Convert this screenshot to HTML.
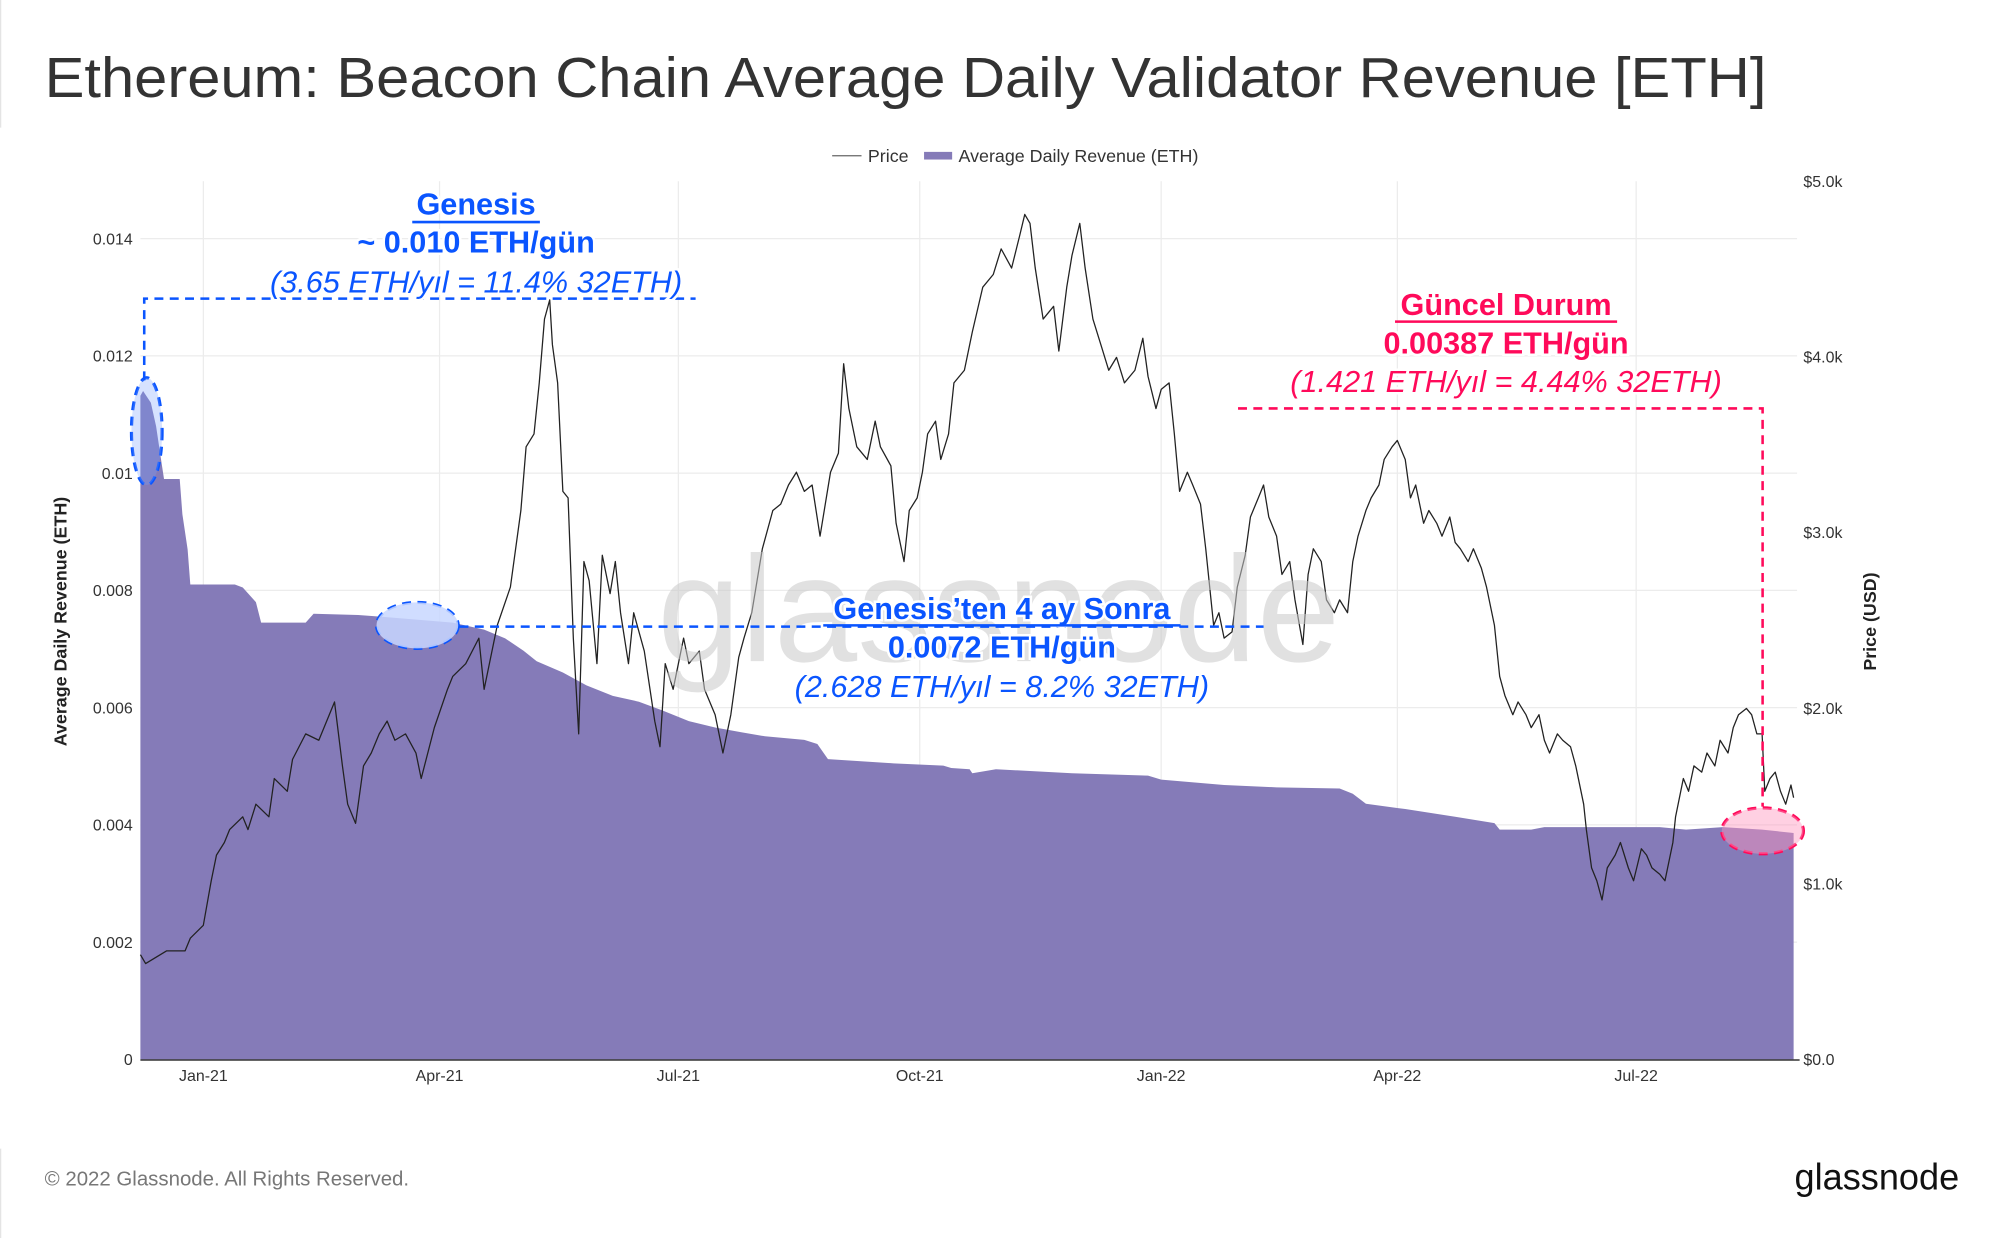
<!DOCTYPE html>
<html><head><meta charset="utf-8">
<style>
html,body{margin:0;padding:0;background:#fff;}
svg{display:block;font-family:"Liberation Sans",sans-serif;}
</style></head>
<body>
<svg id="chart" width="2000" height="1238" viewBox="0 0 1567 970" preserveAspectRatio="none" xmlns="http://www.w3.org/2000/svg">
  <rect width="1567" height="970" fill="#fff"/>
  <line x1="0.5" y1="0" x2="0.5" y2="100" stroke="#e4e4e4"/>
  <line x1="0.5" y1="900" x2="0.5" y2="970" stroke="#e4e4e4"/>
  <text x="35" y="76" font-size="44" fill="#333" textLength="1349" lengthAdjust="spacingAndGlyphs">Ethereum: Beacon Chain Average Daily Validator Revenue [ETH]</text>
  <g>
    <g>
      <line x1="652" y1="122" x2="675" y2="122" stroke="#666" stroke-width="1"/>
      <text x="680" y="127" font-size="14" fill="#333">Price</text>
    </g>
    <g>
      <rect x="724" y="119" width="22" height="6" fill="#857bb8"/>
      <text x="751" y="127" font-size="14" fill="#333">Average Daily Revenue (ETH)</text>
    </g>
  </g>
  <g id="grid"></g>
  <g id="area"></g>
  <g id="price"></g>
  <g id="axes"></g>
  <text x="515" y="518" font-size="118" fill="#c8c8c8" fill-opacity="0.55" textLength="535" lengthAdjust="spacingAndGlyphs">glassnode</text>
  <text transform="translate(52,487) rotate(-90)" text-anchor="middle" font-size="14" font-weight="bold" fill="#222">Average Daily Revenue (ETH)</text>
  <text transform="translate(1470,487) rotate(-90)" text-anchor="middle" font-size="14" font-weight="bold" fill="#222">Price (USD)</text>

  <g font-size="24" fill="#0a55ff" text-anchor="middle" stroke="#fff" stroke-width="4" paint-order="stroke">
    <ellipse cx="115" cy="338" rx="12" ry="42" fill="rgba(120,160,255,0.3)" stroke="#0a55ff" stroke-width="2.5" stroke-dasharray="7,5"/>
    <polyline points="113,298 113,234 545,234" fill="none" stroke="#0a55ff" stroke-width="2" stroke-dasharray="7,5"/>
    <text x="373" y="168" font-weight="bold">Genesis</text>
    <line x1="323" y1="174" x2="423" y2="174" stroke="#0a55ff" stroke-width="2"/>
    <text x="373" y="198" font-weight="bold">~ 0.010 ETH/gün</text>
    <text x="373" y="229" font-style="italic">(3.65 ETH/yıl = 11.4% 32ETH)</text>
  </g>
  <g font-size="24" fill="#0a55ff" text-anchor="middle" stroke="#fff" stroke-width="4" paint-order="stroke">
    <ellipse cx="327" cy="490" rx="32" ry="18" fill="rgba(200,215,255,0.85)" stroke="#0a55ff" stroke-width="2.5" stroke-dasharray="7,5"/>
    <line x1="360" y1="491" x2="990" y2="491" stroke="#0a55ff" stroke-width="2" stroke-dasharray="7,5"/>
    <text x="785" y="485" font-weight="bold">Genesis’ten 4 ay Sonra</text>
    <line x1="645" y1="490" x2="925" y2="490" stroke="#0a55ff" stroke-width="2"/>
    <text x="785" y="515" font-weight="bold">0.0072 ETH/gün</text>
    <text x="785" y="546" font-style="italic">(2.628 ETH/yıl = 8.2% 32ETH)</text>
  </g>
  <g font-size="24" fill="#ff0a5a" text-anchor="middle" stroke="#fff" stroke-width="4" paint-order="stroke">
    <ellipse cx="1381" cy="651" rx="32" ry="18" fill="rgba(255,150,190,0.45)" stroke="#ff0a5a" stroke-width="2.5" stroke-dasharray="7,5"/>
    <polyline points="970,320 1381,320 1381,632" fill="none" stroke="#ff0a5a" stroke-width="2" stroke-dasharray="7,5"/>
    <text x="1180" y="247" font-weight="bold">Güncel Durum</text>
    <line x1="1093" y1="252" x2="1267" y2="252" stroke="#ff0a5a" stroke-width="2"/>
    <text x="1180" y="277" font-weight="bold">0.00387 ETH/gün</text>
    <text x="1180" y="307" font-style="italic">(1.421 ETH/yıl = 4.44% 32ETH)</text>
  </g>

  <text x="35" y="929" font-size="16" fill="#777">© 2022 Glassnode. All Rights Reserved.</text>
  <text x="1406" y="932" font-size="29" fill="#111" textLength="129" lengthAdjust="spacingAndGlyphs">glassnode</text>
</svg>
<script>
// ---- data ----
const revDays = [0,1,4,6,8,9,15,16,18,19,36,39,44,46,63,66,83,92,119,131,139,146,151,161,170,180,190,199,209,219,229,238,253,258,262,287,306,309,316,317,326,355,384,389,413,433,457,462,467,482,501,516,518,530,535,579,589,603,618,630];
const revValues = [0.01132,0.0114,0.0112,0.0108,0.0102,0.0099,0.0099,0.0093,0.0087,0.0081,0.0081,0.00805,0.0078,0.00745,0.00745,0.0076,0.00758,0.00755,0.00745,0.00733,0.00718,0.00697,0.00679,0.0066,0.00638,0.0062,0.0061,0.00595,0.00577,0.00566,0.00558,0.00551,0.00545,0.00538,0.00512,0.00505,0.00501,0.00497,0.00495,0.00488,0.00495,0.00488,0.00484,0.00477,0.00468,0.00464,0.00462,0.00453,0.00436,0.00427,0.00414,0.00403,0.00392,0.00392,0.00396,0.00396,0.00392,0.00396,0.00392,0.00386];
const priceDays = [0,2,10,17,19,24,27,29,32,34,39,41,44,49,51,56,58,63,68,72,74,77,79,82,85,88,91,94,97,101,105,107,112,117,119,124,129,131,136,141,145,147,150,152,154,156,157,159,161,163,165,167,169,171,174,176,179,181,183,186,188,192,196,198,200,203,207,209,213,215,219,222,225,228,230,233,237,241,244,247,250,253,256,259,263,266,268,270,273,277,280,282,286,288,291,293,296,298,300,303,305,308,310,314,317,321,325,328,332,335,337,339,341,344,348,350,353,355,358,360,363,366,369,372,375,379,382,384,387,389,392,394,396,399,401,404,406,409,411,413,416,418,421,423,426,428,430,433,435,438,440,443,445,447,450,452,455,457,460,462,464,467,469,472,474,477,479,482,484,486,489,491,494,496,499,501,503,506,508,511,513,516,518,520,523,525,528,530,533,535,537,540,542,545,547,550,551,553,555,557,559,562,564,567,569,572,574,576,579,581,584,585,588,590,592,595,597,600,602,605,607,609,612,614,616,618,619,621,623,625,627,629,630];
const priceValues = [596,545,618,618,690,763,1017,1163,1235,1308,1381,1308,1453,1381,1599,1526,1708,1853,1817,1962,2035,1671,1453,1344,1671,1744,1853,1926,1817,1853,1744,1599,1889,2107,2180,2253,2398,2107,2471,2689,3125,3488,3561,3852,4215,4324,4070,3852,3234,3197,2398,1853,2834,2725,2253,2870,2652,2834,2543,2253,2543,2325,1926,1780,2253,2107,2398,2253,2325,2107,1962,1744,1962,2289,2398,2543,2907,3125,3161,3270,3343,3234,3270,2979,3343,3452,3961,3706,3488,3416,3634,3488,3379,3052,2834,3125,3197,3343,3561,3634,3416,3561,3852,3924,4142,4397,4469,4615,4506,4687,4811,4760,4506,4215,4288,4033,4397,4578,4760,4506,4215,4070,3924,3997,3852,3924,4106,3888,3706,3815,3852,3561,3234,3343,3270,3161,2907,2471,2543,2398,2434,2689,2870,3088,3197,3270,3088,2979,2761,2834,2616,2362,2761,2907,2834,2616,2543,2616,2543,2834,2979,3125,3197,3270,3416,3488,3524,3416,3197,3270,3052,3125,3052,2979,3088,2943,2907,2834,2907,2798,2689,2471,2180,2071,1962,2035,1962,1889,1962,1817,1744,1853,1817,1780,1671,1453,1308,1090,1017,908,1090,1163,1235,1090,1017,1199,1163,1090,1054,1017,1235,1381,1599,1526,1671,1635,1744,1671,1817,1744,1889,1962,1998,1962,1853,1853,1526,1599,1635,1526,1453,1562,1490];
const xTickDays = [24,114,205,297,389,479,570];
const xTickLabels = ["Jan-21","Apr-21","Jul-21","Oct-21","Jan-22","Apr-22","Jul-22"];
const leftTicks = [0,0.002,0.004,0.006,0.008,0.01,0.012,0.014];
const leftTickLabels = ["0","0.002","0.004","0.006","0.008","0.01","0.012","0.014"];
const rightTicks = [0,1000,2000,3000,4000,5000];
const rightTickLabels = ["$0.0","$1.0k","$2.0k","$3.0k","$4.0k","$5.0k"];

// ---- scales ----
const X0=110, X1=1408, Y0=830;
const xScale = d => 110 + d*2.056;
const yLeft = v => Y0 - v/0.014*(830-187);
const yRight = p => Y0 - p/5000*(830-142);
const NS="http://www.w3.org/2000/svg";
function mk(tag, parent){const e=document.createElementNS(NS,tag);parent.appendChild(e);return e;}

const grid=document.getElementById('grid');
leftTicks.forEach((t,i)=>{
  if(i===0) return;
  const l=mk('line',grid);
  
  
  l.setAttribute('x1',X0);l.setAttribute('x2',X1);
  l.setAttribute('y1',yLeft(t));l.setAttribute('y2',yLeft(t));
  l.setAttribute('stroke','#ececec');
});
xTickDays.forEach(d=>{
  const l=mk('line',grid);
  
  
  l.setAttribute('x1',xScale(d));l.setAttribute('x2',xScale(d));
  l.setAttribute('y1',142);l.setAttribute('y2',Y0);
  l.setAttribute('stroke','#ececec');
});

const area=document.getElementById('area');
let dStr='M'+xScale(revDays[0])+','+Y0;
revDays.forEach((d,i)=>{dStr+=' L'+xScale(d).toFixed(1)+','+yLeft(revValues[i]).toFixed(1);});
dStr+=' L'+xScale(revDays[revDays.length-1]).toFixed(1)+','+Y0+' Z';
const ap=mk('path',area);


ap.setAttribute('d',dStr);ap.setAttribute('fill','#857bb8');

const pg=document.getElementById('price');
const pl=mk('polyline',pg);


pl.setAttribute('points',priceDays.map((d,i)=>xScale(d).toFixed(1)+','+yRight(priceValues[i]).toFixed(1)).join(' '));
pl.setAttribute('fill','none');pl.setAttribute('stroke','#222');pl.setAttribute('stroke-width','1');pl.setAttribute('stroke-linejoin','round');

const ax=document.getElementById('axes');
const base=mk('line',ax);


base.setAttribute('x1',X0);base.setAttribute('x2',X1+2);base.setAttribute('y1',Y0+0.5);base.setAttribute('y2',Y0+0.5);
base.setAttribute('stroke','#333');base.setAttribute('stroke-width','1.2');
xTickDays.forEach((d,i)=>{
  const t=mk('text',ax);
  
  
  t.setAttribute('x',xScale(d));t.setAttribute('y',847);
  t.setAttribute('text-anchor','middle');t.setAttribute('font-size','12.5');t.setAttribute('fill','#333');
  t.textContent=xTickLabels[i];
});
leftTicks.forEach((v,i)=>{
  const t=mk('text',ax);
  
  
  t.setAttribute('x',104);t.setAttribute('y',yLeft(v)+4.5);
  t.setAttribute('text-anchor','end');t.setAttribute('font-size','12.5');t.setAttribute('fill','#333');
  t.textContent=leftTickLabels[i];
});
rightTicks.forEach((v,i)=>{
  const t=mk('text',ax);
  
  
  t.setAttribute('x',1413);t.setAttribute('y',yRight(v)+4.5);
  t.setAttribute('font-size','12.5');t.setAttribute('fill','#333');
  t.textContent=rightTickLabels[i];
});
</script>
</body></html>
